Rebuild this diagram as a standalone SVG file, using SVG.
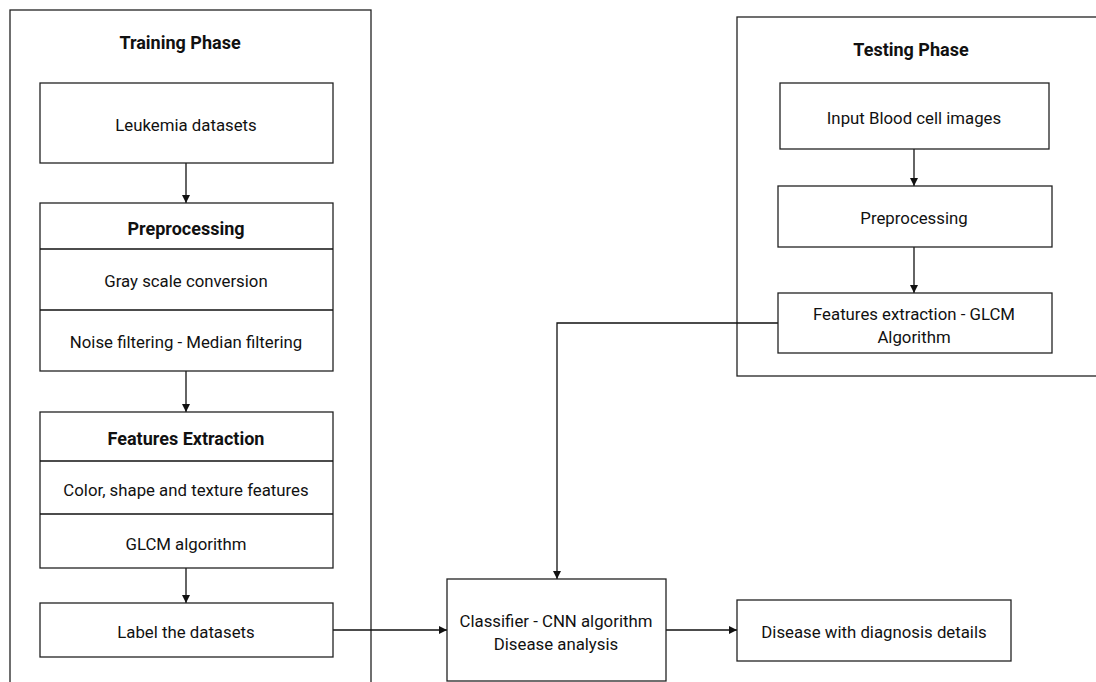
<svg xmlns="http://www.w3.org/2000/svg" width="1096" height="682" viewBox="0 0 1096 682">
<style>
.frame{fill:none;stroke:#222;stroke-width:1.3}
.box{fill:#fff;stroke:#222;stroke-width:1.3}
.t{font-family:Roboto,"Liberation Sans",sans-serif;font-size:16.8px;fill:#111;text-anchor:middle;dominant-baseline:central}
.b{font-weight:bold;font-size:18px}
.c{fill:none;stroke:#111;stroke-width:1.3}
</style>
<defs>
<marker id="ah" viewBox="0 0 10 10" refX="10" refY="5" markerWidth="8" markerHeight="8" markerUnits="userSpaceOnUse" orient="auto">
<path d="M0,0 L10,5 L0,10 z" fill="#111"/>
</marker>
</defs>
<rect width="1096" height="682" fill="#fff"/>
<g id="training-phase">
<rect class="frame" x="10" y="10" width="361" height="690"/>
<text class="t b" x="180" y="42">Training Phase</text>
</g>
<g id="testing-phase">
<rect class="frame" x="737" y="17" width="380" height="359"/>
<text class="t b" x="911" y="49">Testing Phase</text>
</g>
<g id="connectors">
<line class="c" x1="186" y1="163" x2="186" y2="203" marker-end="url(#ah)"/>
<line class="c" x1="186" y1="371" x2="186" y2="412" marker-end="url(#ah)"/>
<line class="c" x1="186" y1="568" x2="186" y2="603" marker-end="url(#ah)"/>
<line class="c" x1="914" y1="149" x2="914" y2="186" marker-end="url(#ah)"/>
<line class="c" x1="914" y1="247" x2="914" y2="293" marker-end="url(#ah)"/>
<polyline class="c" points="778,323 557,323 557,579" marker-end="url(#ah)"/>
<line class="c" x1="333" y1="630" x2="447" y2="630" marker-end="url(#ah)"/>
<line class="c" x1="666" y1="630" x2="737" y2="630" marker-end="url(#ah)"/>
</g>
<g id="leukemia-datasets">
<rect class="box" x="40" y="83" width="293" height="80"/>
<text class="t" x="186" y="125">Leukemia datasets</text>
</g>
<g id="preprocessing">
<rect class="box" x="40" y="203" width="293" height="168"/>
<line class="c" x1="40" y1="249" x2="333" y2="249"/>
<line class="c" x1="40" y1="310" x2="333" y2="310"/>
<text class="t b" x="186" y="228">Preprocessing</text>
<text class="t" x="186" y="281">Gray scale conversion</text>
<text class="t" x="186" y="342">Noise filtering - Median filtering</text>
</g>
<g id="features-extraction">
<rect class="box" x="40" y="412" width="293" height="156"/>
<line class="c" x1="40" y1="461" x2="333" y2="461"/>
<line class="c" x1="40" y1="514" x2="333" y2="514"/>
<text class="t b" x="186" y="438">Features Extraction</text>
<text class="t" x="186" y="490">Color, shape and texture features</text>
<text class="t" x="186" y="544">GLCM algorithm</text>
</g>
<g id="label-datasets">
<rect class="box" x="40" y="603" width="293" height="54"/>
<text class="t" x="186" y="632">Label the datasets</text>
</g>
<g id="input-blood">
<rect class="box" x="780" y="83" width="269" height="66"/>
<text class="t" x="914" y="118">Input Blood cell images</text>
</g>
<g id="test-preprocessing">
<rect class="box" x="778" y="186" width="274" height="61"/>
<text class="t" x="914" y="218">Preprocessing</text>
</g>
<g id="test-features">
<rect class="box" x="778" y="293" width="274" height="60"/>
<text class="t" x="914" y="314">Features extraction - GLCM</text>
<text class="t" x="914" y="337">Algorithm</text>
</g>
<g id="classifier">
<rect class="box" x="447" y="579" width="219" height="102"/>
<text class="t" x="556" y="621">Classifier - CNN algorithm</text>
<text class="t" x="556" y="644">Disease analysis</text>
</g>
<g id="disease-details">
<rect class="box" x="737" y="600" width="274" height="61"/>
<text class="t" x="874" y="632">Disease with diagnosis details</text>
</g>
</svg>
